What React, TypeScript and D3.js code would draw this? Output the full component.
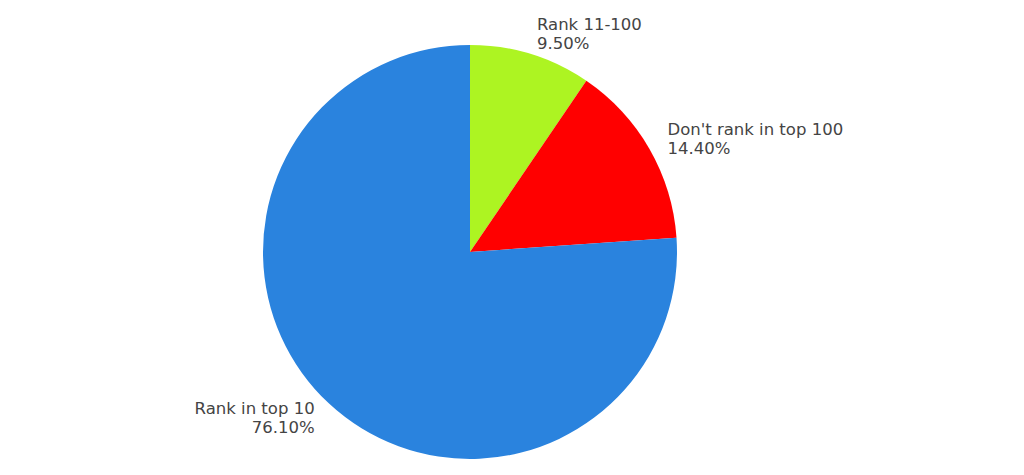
import React from "react";
import * as d3 from "d3";

const categories = ["Rank 11-100", "Don't rank in top 100", "Rank in top 10"];
const values = [9.5, 14.4, 76.1];
const colors = ["#adf422", "#ff0000", "#2a83de"];

const W = 1024;
const H = 475;
const cx = 470;
const cy = 252;
const R = 207;

export default function App() {
  const pie = d3.pie<number>().sort(null).startAngle(0).endAngle(2 * Math.PI)(values);
  const arc = d3.arc<d3.PieArcDatum<number>>().innerRadius(0).outerRadius(R);
  return (
    <svg width={W} height={H} style={{ position: "absolute", left: 0, top: 0, background: "#fff" }}>
      <g transform={`translate(${cx},${cy})`}>
        {pie.map((d, i) => (
          <path key={i} d={arc(d) || ""} fill={colors[i]} />
        ))}
        {pie.map((d, i) => {
          const mid = (d.startAngle + d.endAngle) / 2;
          const x = Math.sin(mid) * R * 1.1;
          const y = -Math.cos(mid) * R * 1.1;
          const anchor = x >= 0 ? "start" : "end";
          return (
            <text
              key={"t" + i}
              x={x}
              y={y}
              textAnchor={anchor}
              fontFamily="DejaVu Sans"
              fontSize={16.5}
              fill="#444"
            >
              <tspan x={x} dy={-4}>{categories[i]}</tspan>
              <tspan x={x} dy={19}>{values[i].toFixed(2) + "%"}</tspan>
            </text>
          );
        })}
      </g>
    </svg>
  );
}
